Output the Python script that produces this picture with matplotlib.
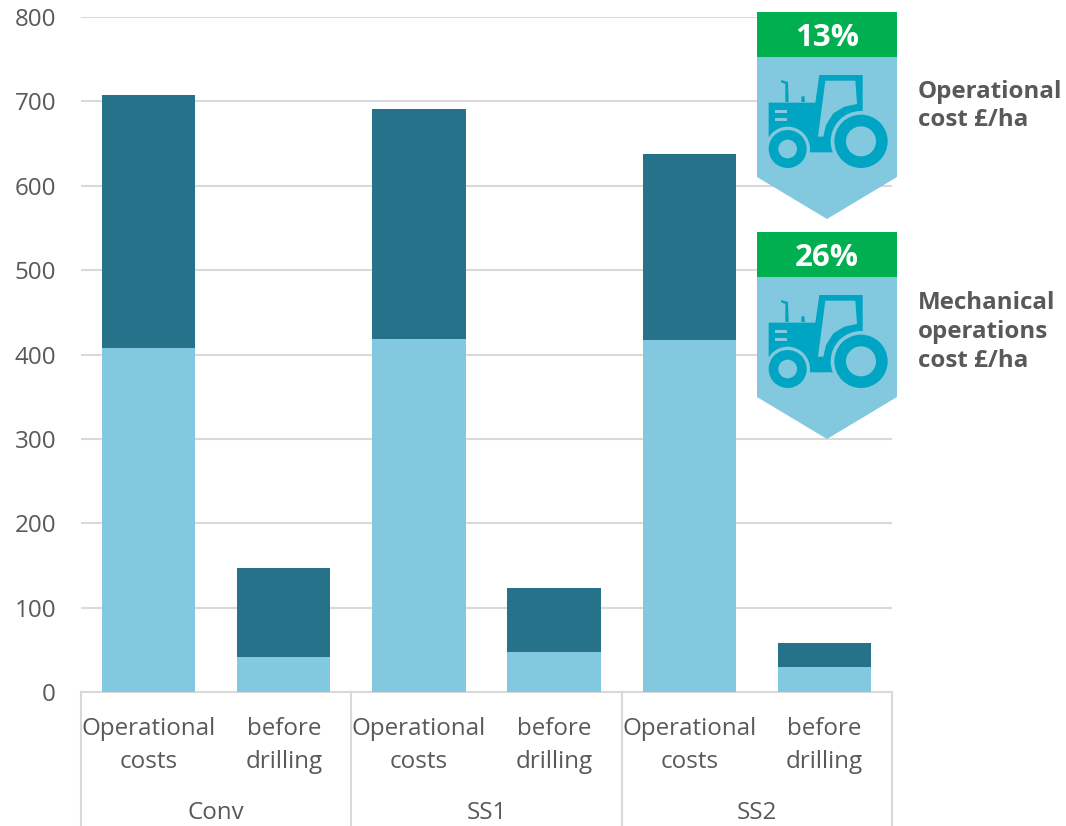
#!/usr/bin/env python3
"""Stacked cost bars per system, with the tractor saving badges on the right."""

import matplotlib
matplotlib.use("Agg")
import matplotlib.pyplot as plt
from matplotlib.patches import Circle, Polygon, Rectangle

plt.rcParams["font.family"] = ["Open Sans", "DejaVu Sans"]

# Data
bar_labels = ["Operational\ncosts", "before\ndrilling"] * 3
group_labels = ["Conv", "SS1", "SS2"]
lower_values = [408, 42, 418, 47, 417, 30]
upper_values = [299, 105, 273, 76, 221, 28]
y_ticks = [0, 100, 200, 300, 400, 500, 600, 700, 800]
badge_percent = ["13%", "26%"]
badge_captions = ["Operational\ncost £/ha", "Mechanical\noperations\ncost £/ha"]

# Colours
LIGHT = "#82C8DE"
DARK = "#26728A"
GREEN = "#00B050"
ICON = "#00A5C3"
GREY = "#595959"
GRID = "#D9D9D9"

W, H = 1066, 826


def draw_tractor(ax, top):
    """Tractor icon; outline points are in px relative to the badge top."""
    def pts(coords):
        return [(746 + x / 3, top - 12 + y / 3) for x, y in coords]

    def circle(x, y, r, color, z):
        cx, cy = pts([(x, y)])[0]
        ax.add_patch(Circle((cx, cy), r / 3, fc=color, ec="none", zorder=z))

    body = [(68, 308), (208, 308), (220, 225), (350, 225), (350, 345), (300, 457),
            (150, 457), (68, 410)]
    window = [(238, 242), (328, 242), (333, 312), (295, 320), (262, 340), (240, 375),
              (232, 410), (216, 410)]
    exhaust = [(118, 306), (118, 252), (105, 247), (106, 240), (126, 246), (128, 306)]
    stack = [(166, 306), (166, 290), (175, 288), (177, 306)]
    ax.add_patch(Polygon(pts(body), fc=ICON, ec="none", zorder=6))
    ax.add_patch(Polygon(pts(exhaust), fc=ICON, ec="none", zorder=6))
    ax.add_patch(Polygon(pts(stack), fc=ICON, ec="none", zorder=6))
    ax.add_patch(Polygon(pts(window), fc=LIGHT, ec="none", zorder=7))
    for y0 in (330, 353):
        ax.add_patch(Polygon(pts([(88, y0), (124, y0), (124, y0 + 10), (88, y0 + 10)]),
                             fc=LIGHT, ec="none", zorder=7))
    # Wheels, each with a light gap ring around it
    circle(345, 424, 91, LIGHT, 8)
    circle(345, 424, 80, ICON, 9)
    circle(345, 424, 45, LIGHT, 10)
    circle(125, 447, 67, LIGHT, 8)
    circle(125, 447, 57, ICON, 9)
    circle(125, 447, 28, LIGHT, 10)


def draw_badge(ax, top, percent, caption, caption_y):
    ax.add_patch(Polygon([(757, top + 45), (897, top + 45), (897, top + 165),
                          (827, top + 207), (757, top + 165)],
                         fc=LIGHT, ec="none", zorder=5))
    ax.add_patch(Rectangle((757, top), 140, 45, fc=GREEN, ec="none", zorder=5))
    ax.text(827, top + 25.5, percent, color="white", fontsize=22.5, fontweight="bold",
            ha="center", va="center", zorder=6)
    draw_tractor(ax, top)
    ax.text(918, caption_y, caption, color=GREY, fontsize=17.4, fontweight="bold",
            ha="left", va="center", linespacing=1.27, zorder=6)


def main():
    fig = plt.figure(figsize=(W / 100, H / 100), dpi=100)
    ax = fig.add_axes([81 / W, (H - 692) / H, 811 / W, 675 / H])

    # Stacked bars
    x = list(range(len(bar_labels)))
    ax.bar(x, lower_values, width=0.69, color=LIGHT, zorder=3)
    ax.bar(x, upper_values, width=0.69, bottom=lower_values, color=DARK, zorder=3)

    ax.set_xlim(-0.5, 5.5)
    ax.set_ylim(0, 800)
    ax.set_yticks(y_ticks)
    ax.set_xticks(x)
    ax.set_xticklabels(bar_labels, linespacing=1.49)
    ax.tick_params(axis="y", length=0, pad=18, labelsize=17.4, labelcolor=GREY)
    ax.tick_params(axis="x", length=0, pad=18, labelsize=17.4, labelcolor=GREY)
    ax.grid(axis="y", color=GRID, linewidth=1.5, zorder=0)
    ax.set_axisbelow(True)
    for side in ("top", "left", "right"):
        ax.spines[side].set_visible(False)
    ax.spines["bottom"].set_color(GRID)
    ax.spines["bottom"].set_linewidth(1.5)

    # Two-level category axis: separators and group names below the bar labels
    sep_bottom = -(826 - 692) / 675
    tr = ax.get_xaxis_transform()
    for edge in (-0.5, 1.5, 3.5, 5.5):
        ax.plot([edge, edge], [0, sep_bottom], transform=tr, color=GRID, linewidth=1.5,
                clip_on=False, zorder=2)
    for i, name in enumerate(group_labels):
        ax.text(2 * i + 0.5, -(813 - 692) / 675, name, transform=tr, color=GREY,
                fontsize=17.4, ha="center", va="center", clip_on=False)

    # Overlay in pixel coordinates for the badges
    overlay = fig.add_axes([0, 0, 1, 1], facecolor="none")
    overlay.set_xlim(0, W)
    overlay.set_ylim(H, 0)
    overlay.axis("off")
    for top, percent, caption, caption_y in zip((12, 232), badge_percent, badge_captions,
                                                (106, 332)):
        draw_badge(overlay, top, percent, caption, caption_y)

    fig.savefig("out.png", dpi=100)


if __name__ == "__main__":
    main()
